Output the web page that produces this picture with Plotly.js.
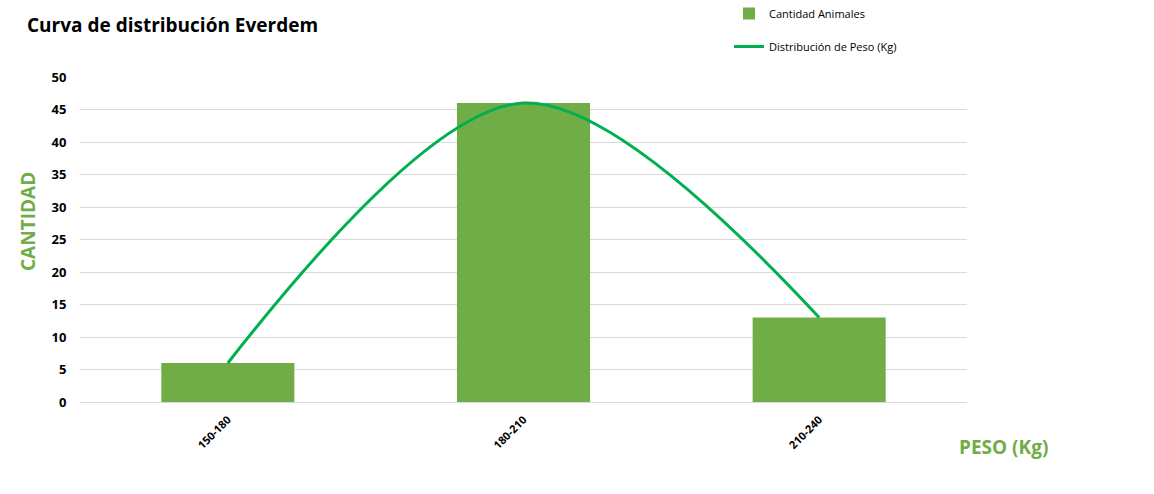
<!DOCTYPE html>
<html>
<head>
<meta charset="utf-8">
<script src="https://cdn.plot.ly/plotly-3.0.1.min.js"></script>
<style>html,body{margin:0;padding:0;background:#fff;}#chart{width:1154px;height:494px;}</style>
</head>
<body>
<div id="chart"></div>
<script>
var categories = ["150-180", "180-210", "210-240"];
var cantidadAnimales = [6, 46, 13];
var distribucionPeso = [6, 46, 13];
var yTicks = [0, 5, 10, 15, 20, 25, 30, 35, 40, 45, 50];

var FONT = "Open Sans, Liberation Sans, sans-serif";

var traces = [
  {
    type: "bar",
    name: "Cantidad Animales",
    x: categories,
    y: cantidadAnimales,
    marker: {color: "#70AD47"},
    legendgroup: "a"
  },
  {
    type: "scatter",
    mode: "lines",
    name: "Distribución de Peso (Kg)",
    x: categories,
    y: distribucionPeso,
    line: {color: "#00B050", width: 3, shape: "spline", smoothing: 0.95},
    legendgroup: "b"
  }
];

var L = 80, R = 967, T = 77, B = 402;
var PW = R - L, PH = B - T;
function px(x){ return (x - L) / PW; }
function py(y){ return (B - y) / PH; }

var layout = {
  width: 1154,
  height: 494,
  margin: {l: L, r: 1154 - R, t: T, b: 494 - B, autoexpand: false},
  paper_bgcolor: "#ffffff",
  plot_bgcolor: "#ffffff",
  font: {family: FONT, color: "#000000", size: 11},
  title: {
    text: "<b>Curva de distribución Everdem</b>",
    font: {family: FONT, size: 19, color: "#000000"},
    x: 27 / 1154, xanchor: "left", xref: "container",
    y: 1 - 25 / 494, yanchor: "middle", yref: "container"
  },
  bargap: 0.55,
  showlegend: true,
  legend: {
    x: px(729), xanchor: "left",
    y: py(-1), yanchor: "top",
    traceorder: "grouped",
    tracegroupgap: 14,
    font: {family: FONT, size: 11, color: "#000000"},
    bgcolor: "rgba(0,0,0,0)"
  },
  xaxis: {
    type: "category",
    tickangle: -45,
    tickvals: categories,
    ticktext: categories.map(function(c){return "<b>" + c + "</b>";}),
    tickfont: {family: FONT, size: 11, color: "#000000"},
    showgrid: false,
    showline: true,
    linecolor: "#d9d9d9",
    ticks: "outside",
    tickcolor: "rgba(0,0,0,0)",
    ticklen: 6,
    zeroline: false
  },
  yaxis: {
    range: [0, 50],
    tickvals: yTicks,
    ticktext: yTicks.map(function(v){return "<b>" + v + "</b>";}),
    tickfont: {family: FONT, size: 13, color: "#000000"},
    showgrid: true,
    gridcolor: "#d9d9d9",
    gridwidth: 1,
    zeroline: false,
    showline: false,
    ticks: "outside",
    tickcolor: "rgba(0,0,0,0)",
    ticklen: 10
  },
  annotations: [
    {
      text: "<b>PESO (Kg)</b>",
      xref: "paper", yref: "paper",
      x: px(1003), y: py(447),
      xanchor: "center", yanchor: "middle",
      showarrow: false,
      font: {family: FONT, size: 19, color: "#70AD47"}
    },
    {
      text: "<b>CANTIDAD</b>",
      xref: "paper", yref: "paper",
      x: px(28), y: py(222),
      xanchor: "center", yanchor: "middle",
      textangle: -90,
      showarrow: false,
      font: {family: FONT, size: 19, color: "#70AD47"}
    }
  ]
};

Plotly.newPlot("chart", traces, layout, {displayModeBar: false, staticPlot: true});
</script>
</body>
</html>
